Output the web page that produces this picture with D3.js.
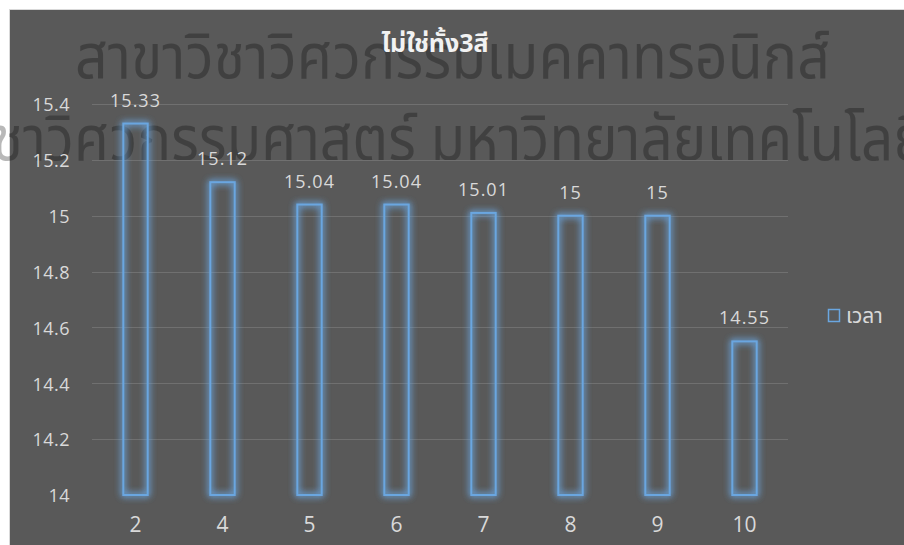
<!DOCTYPE html>
<html>
<head>
<meta charset="utf-8">
<script src="https://cdn.jsdelivr.net/npm/d3@7"></script>
<style>
  html, body { margin: 0; padding: 0; background: #ffffff; }
  svg { display: block; }
</style>
</head>
<body>
<div id="chart"></div>
<script>
// Chart data
const categories = ["2", "4", "5", "6", "7", "8", "9", "10"];
const values = [15.33, 15.12, 15.04, 15.04, 15.01, 15, 15, 14.55];
const yTicks = [14, 14.2, 14.4, 14.6, 14.8, 15, 15.2, 15.4];
const title = "ไม่ใช่ทั้ง3สี";
const seriesName = "เวลา";
const watermark1 = "สาขาวิชาวิศวกรรมเมคคาทรอนิกส์";
const watermark2 = "สำนักวิชาวิศวกรรมศาสตร์ มหาวิทยาลัยเทคโนโลยีสุรนารี";

const width = 904, height = 545;
const thaiFont = "'Noto Sans Thai', 'Noto Sans Thai UI', 'Leelawadee UI', Tahoma, 'Noto Sans', sans-serif";
const numFont = "'Open Sans', Lato, sans-serif";

const svg = d3.select("#chart").append("svg")
    .attr("width", width)
    .attr("height", height);

// glow for the bar outlines
const defs = svg.append("defs");
const glow = defs.append("filter").attr("id", "glow")
    .attr("x", "-80%").attr("y", "-20%").attr("width", "260%").attr("height", "140%");
glow.append("feGaussianBlur").attr("in", "SourceGraphic").attr("stdDeviation", 3.8).attr("result", "blur");
const ct = glow.append("feComponentTransfer").attr("in", "blur").attr("result", "blur2");
ct.append("feFuncA").attr("type", "linear").attr("slope", 2.2);
const merge = glow.append("feMerge");
merge.append("feMergeNode").attr("in", "blur2");
merge.append("feMergeNode").attr("in", "SourceGraphic");

// chart area background
svg.append("rect")
    .attr("x", 9.5).attr("y", 9.5)
    .attr("width", width).attr("height", height)
    .attr("fill", "#595959")
    .attr("stroke", "#d9d9d9")
    .attr("stroke-width", 1);

// watermark (big translucent Thai text), squeezed horizontally like the condensed original
const wm = svg.append("g").attr("fill", "#000").attr("fill-opacity", 0.28)
    .style("font-family", thaiFont);
const wmSize = 62;
wm.append("text")
    .attr("x", 75)
    .attr("y", 78)
    .style("font-size", wmSize + "px")
    .attr("textLength", 755)
    .attr("lengthAdjust", "spacingAndGlyphs")
    .text(watermark1);

function measure(str) {
    const t = wm.append("text").style("font-size", wmSize + "px").text(str);
    const w = t.node().getComputedTextLength();
    t.remove();
    return w;
}
const full2 = measure(watermark2);
const pre2 = measure("สำนักวิ");
const vis2 = measure("ชาวิศวกรรมศาสตร์ มหาวิทยาลัยเทคโนโลย");
const s2 = 935 / vis2;
wm.append("text")
    .attr("y", 160)
    .style("font-size", wmSize + "px")
    .attr("x", -8 - pre2 * s2)
    .attr("textLength", full2 * s2)
    .attr("lengthAdjust", "spacingAndGlyphs")
    .text(watermark2);

// plot scales
const margin = { left: 92, right: 788, top: 104, bottom: 495 };
const x = d3.scaleBand()
    .domain(categories)
    .range([margin.left, margin.right])
    .paddingInner(0.72)
    .paddingOuter(0.36);
const y = d3.scaleLinear()
    .domain([14, 15.4])
    .range([margin.bottom, margin.top]);

// gridlines
svg.append("g")
    .selectAll("line")
    .data(yTicks.slice(1))
    .join("line")
    .attr("x1", margin.left).attr("x2", margin.right)
    .attr("y1", d => Math.round(y(d)) + 0.5)
    .attr("y2", d => Math.round(y(d)) + 0.5)
    .attr("stroke", "#707070")
    .attr("stroke-width", 1);

// y axis labels
const yAxis = d3.axisLeft(y)
    .tickValues(yTicks)
    .tickSize(0)
    .tickPadding(0)
    .tickFormat(d => d3.format("")(+d.toFixed(1)));
svg.append("g")
    .attr("transform", `translate(70,0)`)
    .call(yAxis)
    .call(g => g.select(".domain").remove())
    .call(g => g.selectAll("text")
        .attr("fill", "#d9d9d9")
        .attr("dy", "0.38em")
        .style("font-family", numFont)
        .style("font-size", "18px")
        .style("letter-spacing", "0.5px"));

// x axis labels
const xAxis = d3.axisBottom(x).tickSize(0).tickPadding(0);
svg.append("g")
    .attr("transform", `translate(0,${margin.bottom})`)
    .call(xAxis)
    .call(g => g.select(".domain").remove())
    .call(g => g.selectAll("text")
        .attr("fill", "#d9d9d9")
        .attr("y", 37)
        .attr("dy", 0)
        .style("font-family", numFont)
        .style("font-size", "21px"));

// bars: outline only with a soft blue glow
svg.append("g")
    .selectAll("rect")
    .data(values)
    .join("rect")
    .attr("x", (d, i) => x(categories[i]))
    .attr("y", d => y(d))
    .attr("width", x.bandwidth())
    .attr("height", d => y(14) - y(d))
    .attr("fill", "none")
    .attr("stroke", "#6aa6e0")
    .attr("stroke-width", 2)
    .attr("filter", "url(#glow)");

// data labels
svg.append("g")
    .selectAll("text")
    .data(values)
    .join("text")
    .attr("x", (d, i) => x(categories[i]) + x.bandwidth() / 2)
    .attr("y", d => y(d) - 17)
    .attr("text-anchor", "middle")
    .attr("fill", "#d9d9d9")
    .style("font-family", numFont)
    .style("font-size", "18px")
    .style("letter-spacing", "1px")
    .text(d => d);

// title
svg.append("text")
    .attr("x", 435)
    .attr("y", 52)
    .attr("text-anchor", "middle")
    .attr("fill", "#f2f2f2")
    .style("font-family", thaiFont)
    .style("font-size", "25px")
    .style("font-weight", "bold")
    .text(title);

// legend
const legend = svg.append("g").attr("transform", "translate(828,309)");
legend.append("rect")
    .attr("x", 0.5).attr("y", 0.5)
    .attr("width", 11).attr("height", 12)
    .attr("fill", "none")
    .attr("stroke", "#6aa6e0")
    .attr("stroke-width", 1.5);
legend.append("text")
    .attr("x", 18)
    .attr("y", 14)
    .attr("fill", "#d9d9d9")
    .style("font-family", thaiFont)
    .style("font-size", "21px")
    .text(seriesName);
</script>
</body>
</html>
